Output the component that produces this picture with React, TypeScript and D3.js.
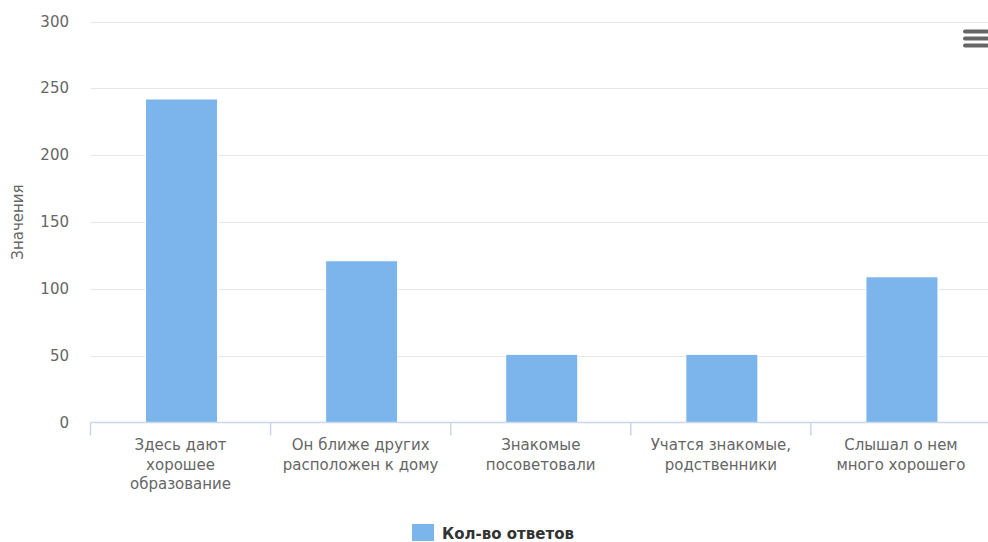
import React from "react";
import * as d3 from "d3";

const categories = [
  "Здесь дают\nхорошее\nобразование",
  "Он ближе других\nрасположен к дому",
  "Знакомые\nпосоветовали",
  "Учатся знакомые,\nродственники",
  "Слышал о нем\nмного хорошего",
];
const values = [242, 121, 51, 51, 109];
const yTicks = [0, 50, 100, 150, 200, 250, 300];
const seriesName = "Кол-во ответов";
const yTitle = "Значения";

const W = 988;
const H = 542;
const left = 90.5;
const right = 991;
const top = 21.5;
const bottom = 422.5;
const FONT = "'DejaVu Sans', Verdana, sans-serif";

export default function App() {
  const x = d3.scaleBand<string>().domain(categories).range([left, right]).padding(0);
  const y = d3.scaleLinear().domain([0, 300]).range([bottom, top]);
  const bw = x.bandwidth();
  const barW = bw * 0.4;
  const bounds = categories.map((c) => x(c) as number).concat([right]);

  return (
    <svg
      width={W}
      height={H}
      style={{ position: "absolute", left: 0, top: 0, background: "#fff" }}
      fontFamily={FONT}
    >
      {yTicks.map((t) => (
        <g key={t}>
          {t > 0 && (
            <line x1={left} x2={right} y1={Math.round(y(t)) + 0.5} y2={Math.round(y(t)) + 0.5} stroke="#e6e6e6" strokeWidth={1} />
          )}
          <text x={69} y={y(t) + 5} textAnchor="end" fontSize={15} fill="#666666">
            {t}
          </text>
        </g>
      ))}
      <text
        transform={`translate(23,${(top + bottom) / 2}) rotate(-90)`}
        textAnchor="middle"
        fontSize={15}
        fill="#666666"
      >
        {yTitle}
      </text>
      {categories.map((c, i) => (
        <rect
          key={c}
          x={(x(c) as number) + bw / 2 - barW / 2 + 1}
          y={y(values[i])}
          width={barW}
          height={y(0) - y(values[i])}
          fill="#7cb5ec"
          stroke="#ffffff"
          strokeWidth={1}
        />
      ))}
      <line x1={left} x2={right} y1={bottom} y2={bottom} stroke="#ccd6eb" strokeWidth={1.5} />
      {bounds.map((b, i) => (
        <line key={i} x1={b} x2={b} y1={bottom} y2={bottom + 13} stroke="#ccd6eb" strokeWidth={1.5} />
      ))}
      {categories.map((c) => {
        const lines = c.split("\n");
        return (
          <text key={c} textAnchor="middle" fontSize={15} fill="#666666">
            {lines.map((l, j) => (
              <tspan key={j} x={(x(c) as number) + bw / 2} y={450 + j * 19.5}>
                {l}
              </tspan>
            ))}
          </text>
        );
      })}
      <rect x={412} y={524} width={22} height={17} fill="#7cb5ec" />
      <text x={442} y={539} fontSize={15} fontWeight="bold" fill="#333333">
        {seriesName}
      </text>
      {[31.5, 38.5, 45.5].map((yy) => (
        <line key={yy} x1={965} x2={987} y1={yy} y2={yy} stroke="#666666" strokeWidth={4} strokeLinecap="round" />
      ))}
    </svg>
  );
}
